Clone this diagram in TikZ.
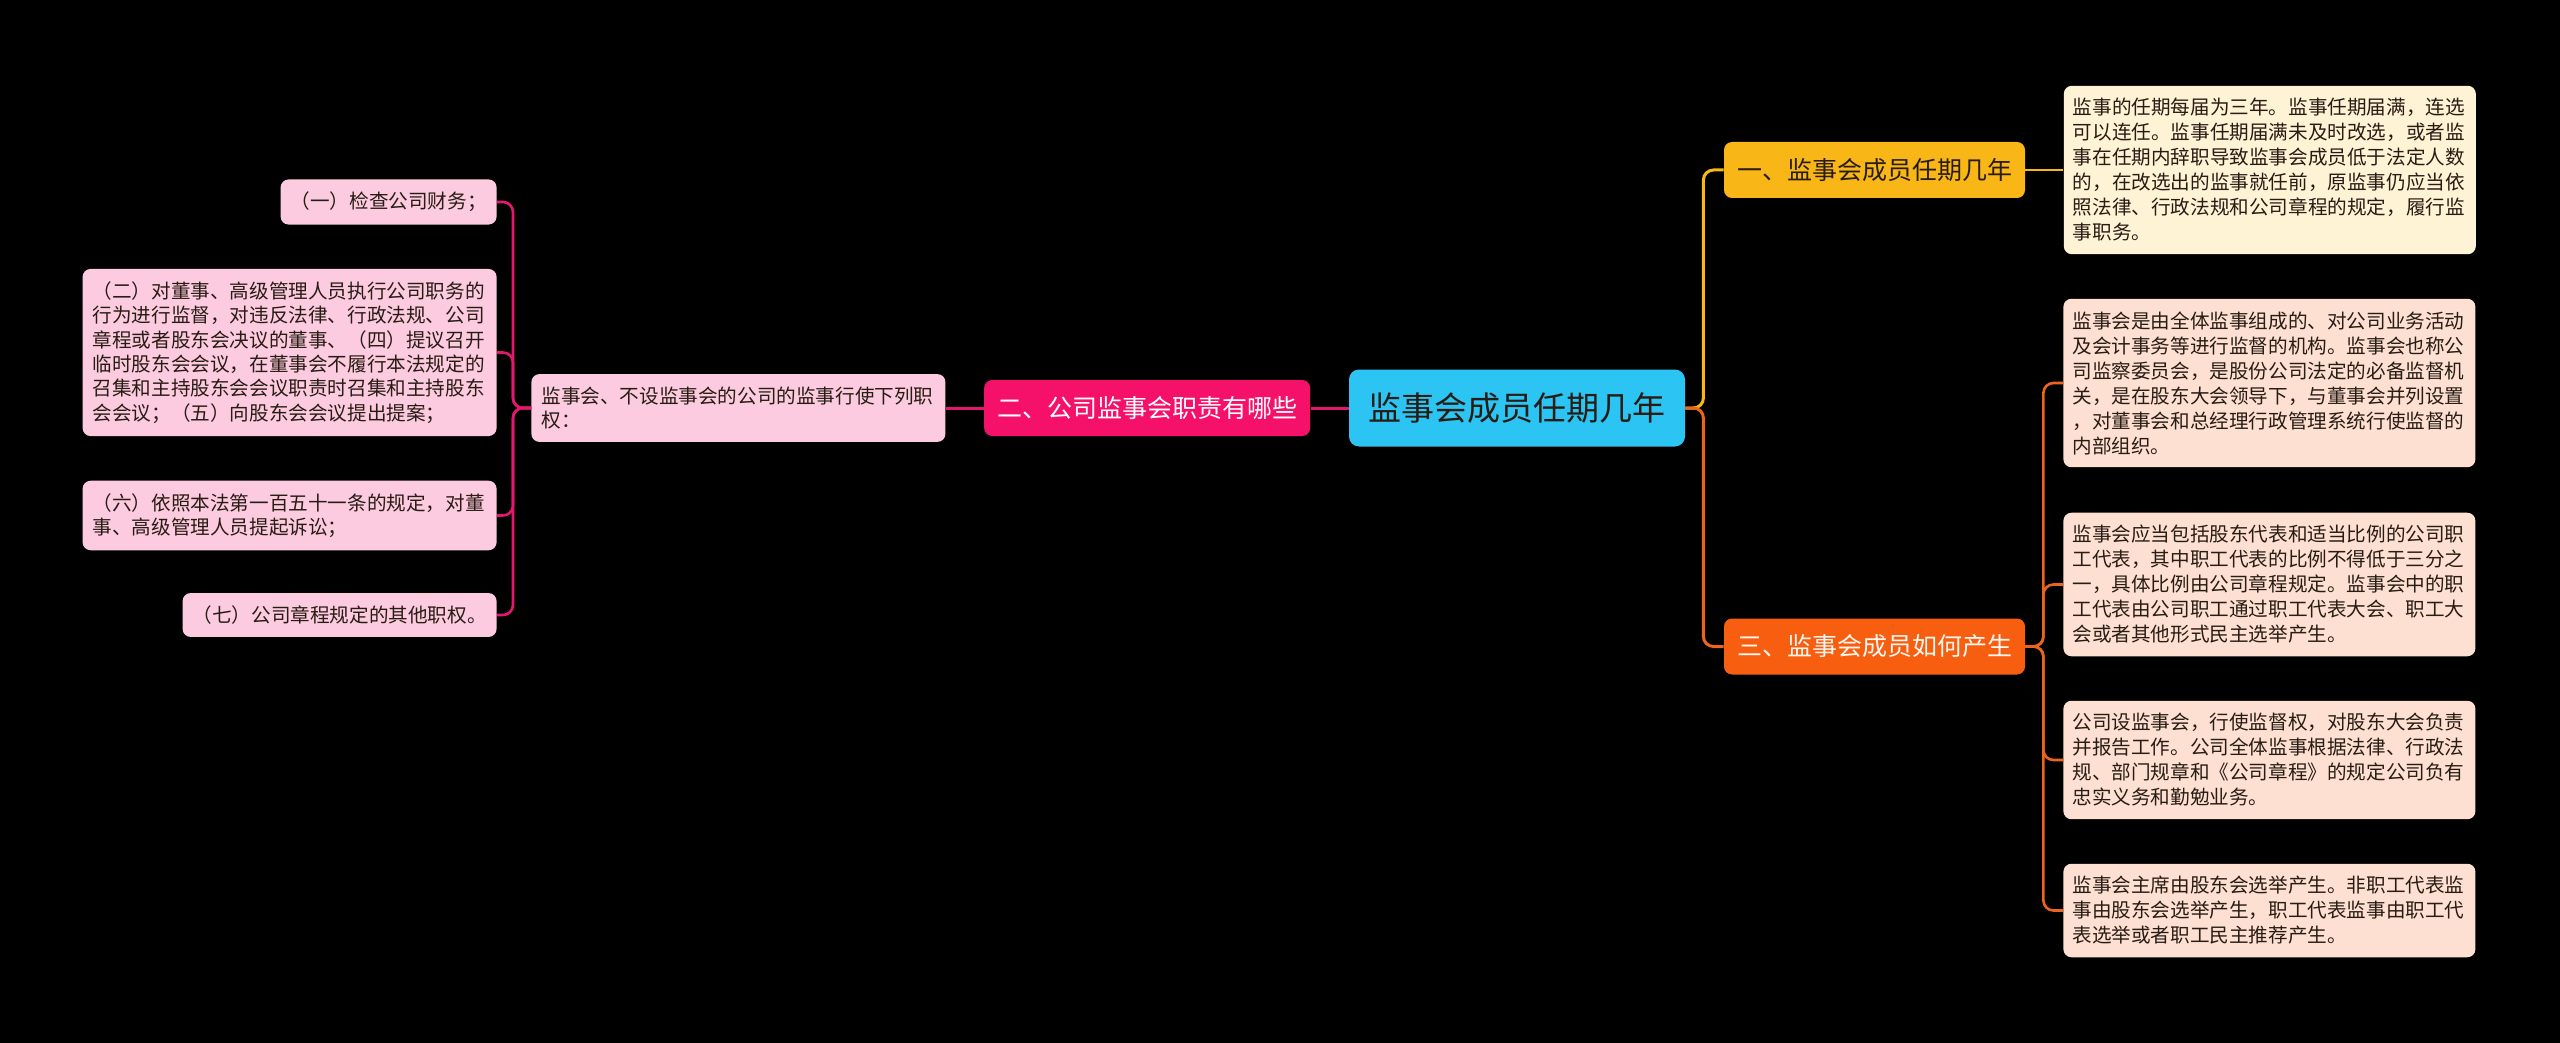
\documentclass[tikz,border=0pt]{standalone}
\usepackage{fontspec}
\setmainfont{Noto Sans CJK SC}
\usepackage{tikz}
\usetikzlibrary{positioning,calc}
\definecolor{ctopic}{RGB}{43,196,243}
\definecolor{cone}{RGB}{248,183,22}
\definecolor{conelt}{RGB}{255,243,214}
\definecolor{cthree}{RGB}{247,94,16}
\definecolor{cthreeln}{RGB}{236,100,30}
\definecolor{cthreelt}{RGB}{253,224,210}
\definecolor{ctwo}{RGB}{245,16,106}
\definecolor{ctwoln}{RGB}{226,24,110}
\definecolor{ctwolt}{RGB}{252,203,224}
\definecolor{cink}{RGB}{40,28,20}
\definecolor{cpale}{RGB}{255,246,240}
\tikzset{
  topic/.style={fill=ctopic, rounded corners=5pt, minimum width=168pt, minimum height=38.5pt,
    inner sep=0pt, font=\fontsize{16.5}{20}\selectfont, text=cink},
  mainbr/.style={rounded corners=4pt, minimum height=28pt, inner xsep=6.5pt, inner ysep=0pt,
    font=\fontsize{12.5}{15}\selectfont},
  rbox/.style={rounded corners=4pt, anchor=west, text width=197pt, inner xsep=4.5pt, inner ysep=6.3pt,
    align=left, font=\fontsize{9.8}{12.5}\selectfont, text=cink},
  lbox/.style={rounded corners=4pt, fill=ctwolt, anchor=east, inner xsep=5pt, inner ysep=6.3pt,
    align=left, font=\fontsize{9.8}{12.2}\selectfont, text=cink},
  lnk/.style={line width=1.5pt, rounded corners=5pt},
}
\begin{document}
\begin{tikzpicture}[x=0.5pt, y=-0.5pt]
  \useasboundingbox (0,0) rectangle (2560,1043);
  \fill[black] (0,0) rectangle (2560,1043);

  % centre and first level
  \node[topic] (root) at (1517,408) {监事会成员任期几年};
  \node[mainbr, fill=cone, text=cink] (b1) at (1874.5,170) {一、监事会成员任期几年};
  \node[mainbr, fill=cthree, text=cpale] (b3) at (1874.5,646.5) {三、监事会成员如何产生};
  \node[mainbr, fill=ctwo, text=white, left=19pt of root] (b2) {二、公司监事会职责有哪些};

  % right side
  \node[rbox, fill=conelt, right=19pt of b1] (r1) {监事的任期每届为三年。监事任期届满，连选\\可以连任。监事任期届满未及时改选，或者监\\事在任期内辞职导致监事会成员低于法定人数\\的，在改选出的监事就任前，原监事仍应当依\\照法律、行政法规和公司章程的规定，履行监\\事职务。};
  \node[rbox, fill=cthreelt] (r2) at (2063,383) {监事会是由全体监事组成的、对公司业务活动\\及会计事务等进行监督的机构。监事会也称公\\司监察委员会，是股份公司法定的必备监督机\\关，是在股东大会领导下，与董事会并列设置\\，对董事会和总经理行政管理系统行使监督的\\内部组织。};
  \node[rbox, fill=cthreelt] (r3) at (2063,584.5) {监事会应当包括股东代表和适当比例的公司职\\工代表，其中职工代表的比例不得低于三分之\\一，具体比例由公司章程规定。监事会中的职\\工代表由公司职工通过职工代表大会、职工大\\会或者其他形式民主选举产生。};
  \node[rbox, fill=cthreelt] (r4) at (2063,760) {公司设监事会，行使监督权，对股东大会负责\\并报告工作。公司全体监事根据法律、行政法\\规、部门规章和《公司章程》的规定公司负有\\忠实义务和勤勉业务。};
  \node[rbox, fill=cthreelt] (r5) at (2063,910.5) {监事会主席由股东会选举产生。非职工代表监\\事由股东会选举产生，职工代表监事由职工代\\表选举或者职工民主推荐产生。};

  % left side
  \node[lbox, text width=197pt, left=19pt of b2] (mid) {监事会、不设监事会的公司的监事行使下列职\\权：};
  \node[lbox] (l1) at (497,202) {（一）检查公司财务；};
  \node[lbox, text width=197pt] (l2) at (497,352.5) {（二）对董事、高级管理人员执行公司职务的\\行为进行监督，对违反法律、行政法规、公司\\章程或者股东会决议的董事、（四）提议召开\\临时股东会会议，在董事会不履行本法规定的\\召集和主持股东会会议职责时召集和主持股东\\会会议；（五）向股东会会议提出提案；};
  \node[lbox, text width=197pt] (l3) at (497,515.5) {（六）依照本法第一百五十一条的规定，对董\\事、高级管理人员提起诉讼；};
  \node[lbox] (l4) at (497,615) {（七）公司章程规定的其他职权。};

  % connectors
  \draw[lnk, cone] (root.east) -- ++(18,0) |- (b1.west);
  \draw[lnk, cthreeln] (root.east) -- ++(18,0) |- (b3.west);
  \draw[lnk, ctwoln] (root.west) -- (b2.east);
  \draw[lnk, ctwoln] (b2.west) -- (mid.east);
  \draw[lnk, cone, line width=1.3pt] (b1.east) -- (r1.west);
  \foreach \r in {r2,r3,r4,r5}
    \draw[lnk, cthreeln, line width=1.3pt] (b3.east) -- ++(18,0) |- (\r.west);
  \foreach \l in {l1,l2,l3,l4}
    \draw[lnk, ctwoln, line width=1.3pt] (mid.west) -- ++(-18,0) |- (\l.east);
\end{tikzpicture}
\end{document}
